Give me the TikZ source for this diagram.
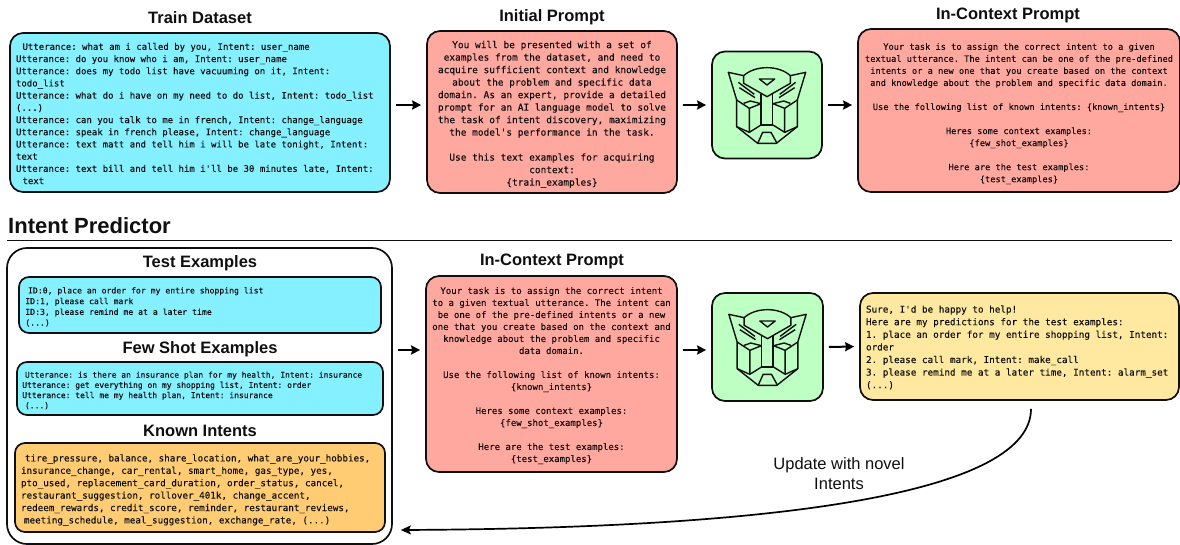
\documentclass[tikz,border=0pt]{standalone}
\usepackage{fontspec}
\setmainfont{Liberation Sans}
\setmonofont{DejaVu Sans Mono}[FakeBold=0.1]
\usetikzlibrary{arrows.meta,calc}
\definecolor{cyanbox}{RGB}{133,240,255}
\definecolor{redbox}{RGB}{255,168,160}
\definecolor{greenbox}{RGB}{190,255,195}
\definecolor{orangebox}{RGB}{255,204,115}
\definecolor{yellowbox}{RGB}{255,233,160}
\definecolor{ink}{RGB}{15,15,15}
\newcommand{\mono}[2]{\fontsize{#1}{#2}\ttfamily\selectfont}
\newcommand{\us}{\_}
\newcommand{\down}[1]{\rule{0pt}{\dimexpr 8pt+2\dimexpr #1pt\relax\relax}}
\tikzset{
  x=1pt,y=-1pt,
  box/.style={draw=ink,line width=1.7pt,rounded corners=13pt,inner sep=0pt,text=ink},
  smallbox/.style={box,rounded corners=10pt},
  title/.style={font=\fontsize{16.5}{19}\bfseries\selectfont,text=ink,inner sep=0pt},
  flow/.style={draw=black,line width=2pt,-{Stealth[length=9pt,width=9pt,inset=1pt]},shorten <=#1,shorten >=#1},
  flow/.default=5pt,
  logo line/.style={draw=ink,line width=1.4pt,line join=round},
  autobot/.pic={
    \begin{scope}[scale=1/3]
      \draw[logo line] (0,-112) .. controls (-30,-112) and (-55,-102) .. (-70,-88)
        -- (-116,-98) -- (-91,-15) -- (-91,65) -- (-28,115) -- (28,115) -- (91,65) -- (91,-15)
        -- (116,-98) -- (70,-88) .. controls (55,-102) and (30,-112) .. (0,-112);
      \draw[logo line] (-70,-88) -- (-70,-65) -- (0,-25) -- (70,-65) -- (70,-88);
      \draw[logo line] (-23,-78) -- (23,-78) -- (0,-60) -- cycle;
      \draw[logo line] (-18,-32) -- (-18,60) -- (17,60) -- (17,-32);
      \foreach \s in {1,-1}{
        \begin{scope}[xscale=\s]
          \draw[logo line] (-86,-68) -- (-38,-32);
          \draw[logo line] (-83,-52) -- (-36,-22);
          \draw[logo line] (-91,-15) -- (-53,10) -- (-18,-4);
          \draw[logo line] (-70,-5) -- (-50,-12) -- (-18,-4);
          \draw[logo line] (-53,10) -- (-53,82) -- (-18,60);
          \draw[logo line] (-91,65) -- (-53,82);
        \end{scope}}
      \draw[logo line] (-28,115) -- (-13,82) -- (12,82) -- (30,115);
    \end{scope}
  }
}
\begin{document}
\begin{tikzpicture}
\useasboundingbox (0,0) rectangle (1180,545);
% titles
\node[title] (t1) at (200,17.5) {Train Dataset};
\node[title] (t2) at (552,17.5) {Initial Prompt};
\node[title] (t3) at (1008,15.5) {In-Context Prompt};
\node[title] (t4) at (552,261.5) {In-Context Prompt};
\node[title,font=\fontsize{22}{24}\bfseries\selectfont,anchor=west] (t5) at (8,226) {Intent Predictor};
\coordinate (ruleL) at (7,240);
\coordinate (ruleR) at (1172,240);
\draw[line width=.8pt,draw=ink] (ruleL) -- (ruleR);
% outer group
\node[box,rounded corners=20pt,minimum width=385pt,minimum height=296pt] (outer) at (199.5,396) {};
\node[title] (t6) at (200,263.5) {Test Examples};
\node[title] (t7) at (200,349.5) {Few Shot Examples};
\node[title] (t8) at (200,430.5) {Known Intents};
% top row
\node[box,fill=cyanbox,minimum width=380pt,minimum height=159pt,text width=368pt,align=flush left,font=\mono{9}{12.2}] (train) at (200,112.5) {%
\down{.5}\hspace*{6.5pt}Utterance: what am i called by you, Intent: user\us name\\
Utterance: do you know who i am, Intent: user\us name\\
Utterance: does my todo list have vacuuming on it, Intent:\\
todo\us list\\
Utterance: what do i have on my need to do list, Intent: todo\us list\\
(...)\\
Utterance: can you talk to me in french, Intent: change\us language\\
Utterance: speak in french please, Intent: change\us language\\
Utterance: text matt and tell him i will be late tonight, Intent:\\
text\\
Utterance: text bill and tell him i'll be 30 minutes late, Intent:\\
\hspace*{6.5pt}text};
\node[box,fill=redbox,minimum width=250pt,minimum height=162pt,align=center,font=\mono{9.47}{12.5}] (initial) at (552,112) {%
\down{2}You will be presented with a set of\\
examples from the dataset, and need to\\
acquire sufficient context and knowledge\\
about the problem and specific data\\
domain. As an expert, provide a detailed\\
prompt for an AI language model to solve\\
the task of intent discovery, maximizing\\
the model's performance in the task.\\[12.5pt]
Use this text examples for acquiring\\
context:\\
\{train\us examples\}};
\node[box,fill=greenbox,minimum width=110pt,minimum height=107pt] (llmA) at (767,105) {};
\pic at (llmA.center) {autobot};
\node[box,fill=redbox,minimum width=322pt,minimum height=163pt,align=center,font=\mono{8.67}{12.05}] (ctxA) at (1019,110.5) {%
\down{2.5}Your task is to assign the correct intent to a given\\
textual utterance. The intent can be one of the pre-defined\\
intents or a new one that you create based on the context\\
and knowledge about the problem and specific data domain.\\[12pt]
Use the following list of known intents: \{known\us intents\}\\[12pt]
Heres some context examples:\\
\{few\us shot\us examples\}\\[12pt]
Here are the test examples:\\
\{test\us examples\}};
% left group boxes
\node[smallbox,fill=cyanbox,minimum width=362pt,minimum height=56pt,text width=349.4pt,align=flush left,font=\mono{8.15}{10.7}] (test) at (200,305) {%
\down{1}\hspace*{2.7pt}ID:0, place an order for my entire shopping list\\
ID:1, please call mark\\
ID:3, please remind me at a later time\\
(...)};
\node[smallbox,fill=cyanbox,minimum width=366pt,minimum height=53pt,text width=355.4pt,align=flush left,font=\mono{8}{10.2}] (few) at (200,388.5) {%
\down{1}\hspace*{2.7pt}Utterance: is there an insurance plan for my health, Intent: insurance\\
Utterance: get everything on my shopping list, Intent: order\\
Utterance: tell me my health plan, Intent: insurance\\
\hspace*{2.7pt}(...)};
\node[smallbox,fill=orangebox,minimum width=370pt,minimum height=89pt,text width=358pt,align=flush left,font=\mono{9.25}{12.4}] (known) at (200,487.5) {%
\down{2}\hspace*{4pt}tire\us pressure, balance, share\us location, what\us are\us your\us hobbies,\\
insurance\us change, car\us rental, smart\us home, gas\us type, yes,\\
pto\us used, replacement\us card\us duration, order\us status, cancel,\\
restaurant\us suggestion, rollover\us 401k, change\us accent,\\
redeem\us rewards, credit\us score, reminder, restaurant\us reviews,\\
\hspace*{3pt}meeting\us schedule, meal\us suggestion, exchange\us rate, (...)};
% bottom row
\node[box,fill=redbox,minimum width=251pt,minimum height=196pt,align=center,font=\mono{9}{12}] (ctxB) at (551.5,374) {%
\down{1}Your task is to assign the correct intent\\
to a given textual utterance. The intent can\\
be one of the pre-defined intents or a new\\
one that you create based on the context and\\
knowledge about the problem and specific\\
data domain.\\[12pt]
Use the following list of known intents:\\
\{known\us intents\}\\[12pt]
Heres some context examples:\\
\{few\us shot\us examples\}\\[12pt]
Here are the test examples:\\
\{test\us examples\}};
\node[box,fill=greenbox,minimum width=111pt,minimum height=108pt] (llmB) at (767.5,347) {};
\pic at (llmB.center) {autobot};
\node[box,fill=yellowbox,minimum width=319pt,minimum height=107pt,text width=307pt,align=flush left,font=\mono{9.3}{12.6}] (out) at (1019.5,346.5) {%
\down{.5}Sure, I'd be happy to help!\\
Here are my predictions for the test examples:\\
1. place an order for my entire shopping list, Intent:\\
order\\
2. please call mark, Intent: make\us call\\
3. please remind me at a later time, Intent: alarm\us set\\
(...)};
% connectors
\draw[flow] (train.east |- llmA.center) -- (initial.west |- llmA.center);
\draw[flow] (initial.east |- llmA.center) -- (llmA.west);
\draw[flow] (llmA.east) -- (ctxA.west |- llmA.center);
\coordinate (rowB) at (700,350);
\draw[flow] (outer.east |- rowB) -- (ctxB.west |- rowB);
\draw[flow] (ctxB.east |- rowB) -- (llmB.west |- rowB);
\draw[flow] (llmB.east) -- (out.west);
\draw[draw=black,line width=1.7pt,-{Stealth[length=10pt,width=9pt,inset=2pt]}]
  ([xshift=11.5pt,yshift=-8pt]out.south) .. controls (1031,490) and (800,528) .. ([xshift=8pt]outer.east |- 0,530);
\node[font=\fontsize{16.5}{20}\selectfont,align=center,text=ink,inner sep=0pt] (upd) at (839,474) {Update with novel\\Intents};
\end{tikzpicture}
\end{document}
